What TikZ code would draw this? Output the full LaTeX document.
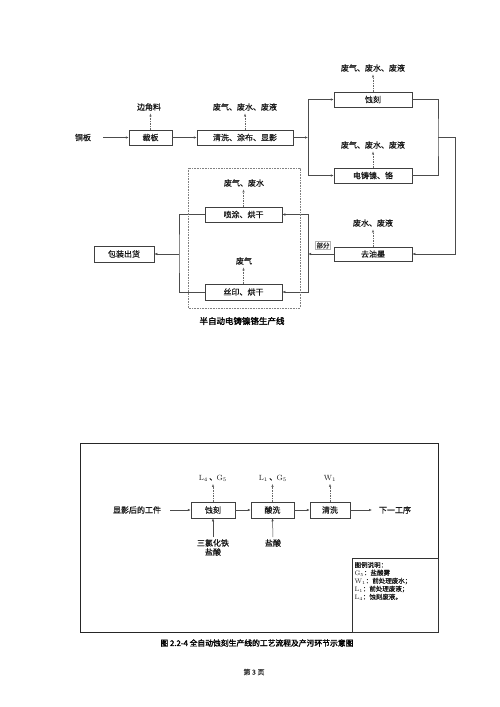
\documentclass[tikz,border=0pt]{standalone}
\usepackage{fontspec}
\newfontfamily\cjk[FakeBold=0.6]{Noto Sans CJK SC}
\newfontfamily\cjkb[FakeBold=2]{Noto Sans CJK SC}
\usetikzlibrary{arrows.meta}
\tikzset{
  box/.style={draw=black!75, line width=0.5pt, rectangle, inner sep=0pt, font=\cjk\fontsize{8}{9}\selectfont, text=black!90},
  lbl/.style={inner sep=1pt, font=\cjk\fontsize{8}{9}\selectfont, text=black!90},
  sml/.style={inner sep=0pt, font=\cjk\fontsize{6.5}{8}\selectfont, text=black!90, anchor=west},
  ln/.style={draw=black!70, line width=0.5pt},
  arr/.style={ln, -{Latex[length=3pt,width=2.4pt]}},
  darr/.style={draw=black!60, line width=0.45pt, dash pattern=on 1.5pt off 1pt, -{Latex[length=3pt,width=2.4pt]}, shorten >=1.5pt},
}
\begin{document}
\begin{tikzpicture}[x=1pt,y=-1pt]
\useasboundingbox (0,0) rectangle (500,707);
\fill[white] (0,0) rectangle (500,707);

% ---------- upper diagram ----------
\node[lbl] (tongban) at (83,137.5) {铜板};
\coordinate (t0) at (103,137.5);
\node[box, minimum width=43pt, minimum height=15pt] (caiban) at (150.5,137.5) {裁板};
\node[box, minimum width=96pt, minimum height=15pt] (qingxi) at (245,137.5) {清洗、涂布、显影};
\node[box, minimum width=78pt, minimum height=15pt] (shike) at (373,99.5) {蚀刻};
\node[box, minimum width=78pt, minimum height=15pt] (dianzhu) at (373,175.5) {电铸镍、铬};
\node[box, minimum width=78pt, minimum height=14pt] (quyoumo) at (373,254) {去油墨};
\node[box, minimum width=77pt, minimum height=15pt] (penyu) at (243.5,214.5) {喷涂、烘干};
\node[box, minimum width=77pt, minimum height=16pt] (siyin) at (243.5,292) {丝印、烘干};
\node[box, minimum width=60pt, minimum height=16pt] (baozhuang) at (124,254) {包装出货};

\node[lbl] (l1) at (149,107) {边角料};
\node[lbl] (l2) at (245,107) {废气、废水、废液};
\node[lbl] (l3) at (373,68) {废气、废水、废液};
\node[lbl] (l4) at (373,145) {废气、废水、废液};
\node[lbl] (l5) at (373,223) {废水、废液};
\node[lbl] (l6) at (244,183) {废气、废水};
\node[lbl] (l7) at (244,261) {废气};

\draw[darr] (caiban.north) -- (caiban.north |- l1.south);
\draw[darr] (qingxi.north) -- (qingxi.north |- l2.south);
\draw[darr] (shike.north) -- (shike.north |- l3.south);
\draw[darr] (dianzhu.north) -- (dianzhu.north |- l4.south);
\draw[darr] (quyoumo.north) -- (quyoumo.north |- l5.south);
\draw[darr] (penyu.north) -- (penyu.north |- l6.south);
\draw[darr] (siyin.north) -- (siyin.north |- l7.south);

\draw[arr] (t0) -- (caiban.west);
\draw[arr] (caiban.east) -- (qingxi.west);
\coordinate (b1) at (308,137.5);
\draw[arr] (qingxi.east) -- (b1);
\draw[arr] (b1) |- (shike.west);
\draw[arr] (b1) |- (dianzhu.west);
\coordinate (m1) at (438,137.5);
\coordinate (m2) at (455,137.5);
\draw[ln] (shike.east) -| (m1) |- (dianzhu.east);
\draw[arr] (m1) -- (m2) |- (quyoumo.east);
\coordinate (b2) at (308,254);
\draw[arr] (quyoumo.west) -- (b2);
\draw[arr] (b2) |- (penyu.east);
\draw[arr] (b2) |- (siyin.east);
\node[draw=black!30, line width=0.3pt, inner sep=1pt, font=\cjk\fontsize{6.5}{7}\selectfont, text=black!80] (bufen) at (323,245.5) {部分};
\coordinate (b3) at (179,254);
\draw[ln] (penyu.west) -| (b3) |- (siyin.west);
\draw[arr] (b3) -- (baozhuang.east);

\draw[draw=black!50, line width=0.4pt, dash pattern=on 0.8pt off 0.8pt] (188,168) rectangle (300,308);
\node[inner sep=0pt, font=\cjkb\fontsize{8.5}{10}\selectfont] (cap1) at (242,321) {半自动电铸镍铬生产线};

% ---------- lower diagram ----------
\draw[line width=1pt, draw=black!85] (80,443) rectangle (438,632);
\draw[line width=0.5pt, draw=black!80] (352,558) rectangle (438,632);

\node[lbl] (xianying) at (137,510) {显影后的工件};
\coordinate (x0) at (170,510);
\node[box, minimum width=44pt, minimum height=16pt] (shike2) at (213,510) {蚀刻};
\node[box, minimum width=43pt, minimum height=16pt] (suanxi) at (272.5,510) {酸洗};
\node[box, minimum width=40pt, minimum height=16pt] (qingxi2) at (330,510) {清洗};
\coordinate (x1) at (372,510);
\node[lbl] (next) at (395,510) {下一工序};

\draw[arr] (x0) -- (shike2.west);
\draw[arr] (shike2.east) -- (suanxi.west);
\draw[arr] (suanxi.east) -- (qingxi2.west);
\draw[arr] (qingxi2.east) -- (x1);

\node[lbl, font=\fontsize{7.5}{9}\selectfont] (p1) at (213,478) {L\textsubscript{4}{\cjk\,、}G\textsubscript{5}};
\node[lbl, font=\fontsize{7.5}{9}\selectfont] (p2) at (273,478) {L\textsubscript{1}{\cjk\,、}G\textsubscript{5}};
\node[lbl, font=\fontsize{7.5}{9}\selectfont] (p3) at (330,478) {W\textsubscript{1}};
\draw[darr] (shike2.north) -- (shike2.north |- p1.south);
\draw[darr] (suanxi.north) -- (suanxi.north |- p2.south);
\draw[darr] (qingxi2.north) -- (qingxi2.north |- p3.south);

\node[lbl, align=center] (in1) at (213,547.5) {三氯化铁\\盐酸};
\node[lbl] (in2) at (273,543) {盐酸};
\draw[arr, shorten <=1pt] (in1.north) -- (shike2.south);
\draw[arr, shorten <=1pt] (in2.north) -- (suanxi.south);

\node[sml] (lg0) at (354.5,565) {图例说明：};
\node[sml] (lg1) at (354.5,573) {{\rmfamily G\textsubscript{5}}：盐酸雾};
\node[sml] (lg2) at (354.5,581) {{\rmfamily W\textsubscript{1}}：前处理废水；};
\node[sml] (lg3) at (354.5,589) {{\rmfamily L\textsubscript{1}}：前处理废液；};
\node[sml] (lg4) at (354.5,597) {{\rmfamily L\textsubscript{4}}：蚀刻废液。};

\node[inner sep=0pt, font=\cjkb\fontsize{7.8}{9}\selectfont] (cap2) at (257,643) {图 2.2-4\ 全自动蚀刻生产线的工艺流程及产污环节示意图};
\node[inner sep=0pt, font=\cjk\fontsize{7}{8}\selectfont, text=black!80] (page) at (254,672) {第 3 页};
\end{tikzpicture}
\end{document}
